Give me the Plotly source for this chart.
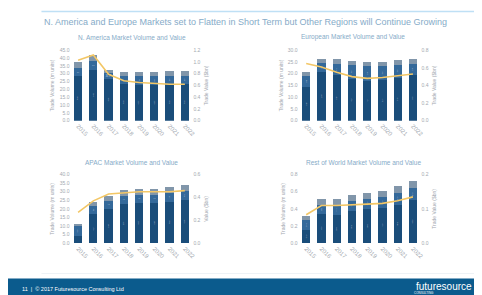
import plotly.graph_objects as go

years = ["2015", "2016", "2017", "2018", "2019", "2020", "2021", "2022"]

# N. America (m units / $bn)
na_dark = [28.5, 32.6, 26.8, 23.3, 23.0, 23.0, 23.3, 23.3]
na_mid = [5.1, 5.2, 3.7, 5.2, 5.3, 5.3, 5.4, 5.4]
na_top = [3.6, 4.1, 1.7, 2.5, 2.6, 2.6, 2.8, 2.8]
na_value = [1.03, 1.12, 0.79, 0.68, 0.65, 0.63, 0.62, 0.62]

# Europe
eu_dark = [14.3, 20.7, 19.3, 17.9, 17.1, 17.3, 18.3, 19.3]
eu_mid = [4.8, 4.0, 4.8, 5.6, 6.0, 5.8, 5.5, 5.0]
eu_top = [1.6, 1.7, 2.0, 1.9, 1.9, 1.9, 1.9, 1.8]
eu_value = [0.65, 0.61, 0.55, 0.50, 0.48, 0.49, 0.51, 0.53]

# APAC
ap_dark = [4.0, 17.0, 20.0, 22.9, 23.5, 23.5, 24.2, 25.0]
ap_mid = [6.0, 4.9, 4.8, 4.7, 4.8, 4.8, 5.0, 5.2]
ap_top = [1.4, 1.9, 2.8, 3.4, 3.5, 3.5, 3.6, 3.8]
ap_value = [0.27, 0.37, 0.43, 0.44, 0.45, 0.45, 0.45, 0.46]

# Rest of World
rw_dark = [0.15, 0.34, 0.33, 0.38, 0.40, 0.41, 0.45, 0.50]
rw_mid = [0.12, 0.10, 0.11, 0.11, 0.12, 0.13, 0.14, 0.14]
rw_top = [0.05, 0.07, 0.07, 0.07, 0.07, 0.07, 0.08, 0.08]
rw_value = [0.083, 0.110, 0.110, 0.111, 0.114, 0.116, 0.124, 0.135]

panel_titles = ["N. America Market Volume and Value", "European Market Volume and Value",
                "APAC Market Volume and Value", "Rest of World Market Volume and Value"]
main_title = "N. America and Europe Markets set to Flatten in Short Term but Other Regions will Continue Growing"
footer_text = "11  |  © 2017 Futuresource Consulting Ltd"

W, H = 482, 295
C_DARK = "#1a4d7a"
C_MID = "#34699a"
C_TOP = "#8196aa"
C_LINE = "#f3c766"
C_TXT = "#a3a9b0"
C_TITLE = "#86abc8"

panels = [
    (na_dark, na_mid, na_top, na_value, 45, 5, 1.2, 0.2, "Trade Value ($bn)"),
    (eu_dark, eu_mid, eu_top, eu_value, 30, 5, 0.8, 0.2, "Trade Value ($bn)"),
    (ap_dark, ap_mid, ap_top, ap_value, 40, 5, 0.6, 0.2, "Value ($bn)"),
    (rw_dark, rw_mid, rw_top, rw_value, 0.8, 0.2, 0.2, 0.1, "Trade Value ($bn)"),
]

def px_x(a, b):
    return [a / W, b / W]

def px_y(top, bottom):
    return [1 - bottom / H, 1 - top / H]

xdoms = [px_x(63, 186), px_x(293, 416), px_x(63, 186), px_x(293, 416)]
ydoms = [px_y(40, 112), px_y(40, 112), px_y(167, 237), px_y(167, 237)]

fig = go.Figure()
layout = {}
for i, (d, m, t, v, lmax, ldt, rmax, rdt, rtitle) in enumerate(panels):
    xa = "x" if i == 0 else f"x{i+1}"
    yl = f"y{2*i+1}" if i > 0 else "y"
    yr = f"y{2*i+2}"
    fmt = "%{y:.1f}" if lmax > 1 else "%{y:.2f}"
    for vals, col, lab in [(d, C_DARK, True), (m, C_MID, True), (t, C_TOP, False)]:
        kw = {}
        if lab:
            kw = dict(texttemplate=fmt, textposition="inside", insidetextanchor="middle",
                      textfont=dict(size=4, color="rgba(255,255,255,0.7)"))
        fig.add_trace(go.Bar(x=years, y=vals, marker_color=col, marker_line_width=0,
                             xaxis=xa, yaxis=yl, showlegend=False, **kw))
    fig.add_trace(go.Scatter(x=years, y=v, mode="lines", line=dict(color=C_LINE, width=1.6),
                             xaxis=xa, yaxis=yr, showlegend=False))
    xkey = "xaxis" if i == 0 else f"xaxis{i+1}"
    ylkey = "yaxis" if i == 0 else f"yaxis{2*i+1}"
    yrkey = f"yaxis{2*i+2}"
    layout[xkey] = dict(domain=xdoms[i], anchor=yl, tickangle=45, showgrid=False,
                        showline=False, ticks="", tickfont=dict(size=6, color=C_TXT))
    layout[ylkey] = dict(domain=ydoms[i], anchor=xa, range=[0, lmax], dtick=ldt,
                         tickformat=".1f", showgrid=False, zeroline=False, ticks="",
                         tickfont=dict(size=5, color=C_TXT),
                         title=dict(text="Trade Volume (m units)", font=dict(size=5, color=C_TXT), standoff=4))
    layout[yrkey] = dict(overlaying=yl, side="right", anchor=xa, range=[0, rmax], dtick=rdt,
                         tickformat=".1f", showgrid=False, zeroline=False, ticks="",
                         tickfont=dict(size=5, color=C_TXT),
                         title=dict(text=rtitle, font=dict(size=5, color=C_TXT), standoff=4))

fig.update_layout(**layout)
fig.update_layout(width=W, height=H, margin=dict(l=0, r=0, t=0, b=0),
                  paper_bgcolor="white", plot_bgcolor="white", barmode="stack",
                  bargap=0.46, font=dict(family="Liberation Sans, Arial"))

ann = []
ann.append(dict(text=main_title, x=239 / W, y=1 - 11.5 / H, xref="paper", yref="paper",
                showarrow=False, font=dict(size=9, color=C_TITLE), xanchor="center", yanchor="middle"))
tpos = [(125, 27), (348, 27), (125, 155), (358, 155)]
for (tx, ty), tt in zip(tpos, panel_titles):
    ann.append(dict(text=tt, x=tx / W, y=1 - ty / H, xref="paper", yref="paper", showarrow=False,
                    font=dict(size=6.5, color=C_TITLE), xanchor="center", yanchor="middle"))
ann.append(dict(text=footer_text, x=12 / W, y=1 - 284 / H, xref="paper", yref="paper", showarrow=False,
                font=dict(size=5.5, color="white"), xanchor="left", yanchor="middle"))
ann.append(dict(text="futuresource", x=470 / W, y=1 - 281 / H, xref="paper", yref="paper", showarrow=False,
                font=dict(size=10, color="white"), xanchor="right", yanchor="middle"))
ann.append(dict(text="CONSULTING", x=432 / W, y=1 - 288 / H, xref="paper", yref="paper", showarrow=False,
                font=dict(size=3, color="white"), xanchor="right", yanchor="middle"))
fig.update_layout(annotations=ann)

fig.update_layout(shapes=[
    dict(type="rect", xref="paper", yref="paper", x0=0, x1=1, y0=0, y1=1 - 273 / H,
         fillcolor="#0b5b8d", line_width=0, layer="above"),
    dict(type="line", xref="paper", yref="paper", x0=0.07, x1=1, y0=1 - 268 / H, y1=1 - 268 / H,
         line=dict(color="#eef2f6", width=1)),
    dict(type="line", xref="paper", yref="paper", x0=0.07, x1=1, y0=1 - 0.5 / H, y1=1 - 0.5 / H,
         line=dict(color="#bfe0f5", width=1.5)),
])

fig.write_html("out.html")
